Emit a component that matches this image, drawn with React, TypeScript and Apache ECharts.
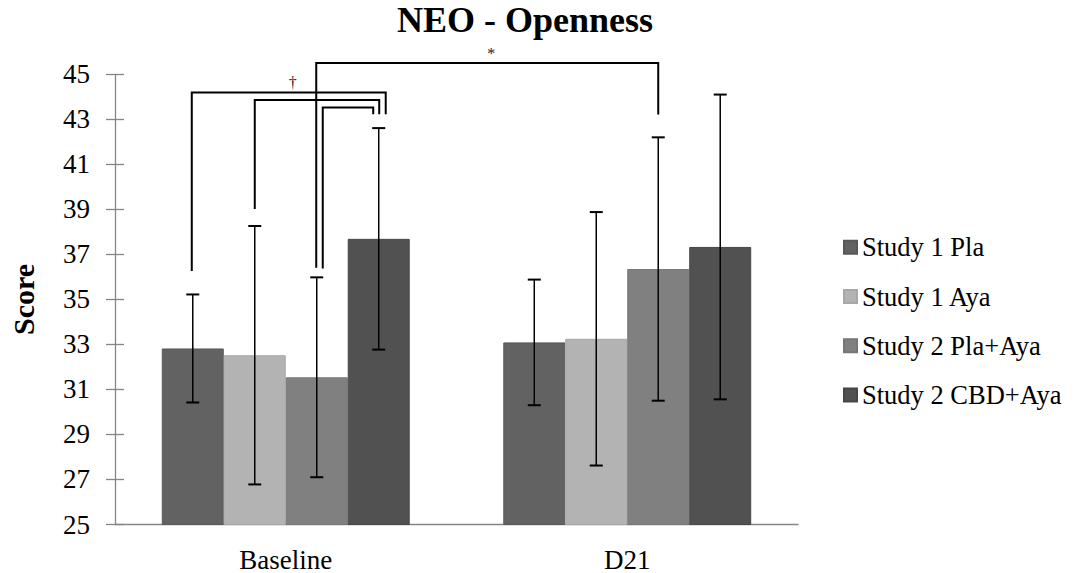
import React, { useEffect, useRef } from "react";
import * as echarts from "echarts";

const categories = ["Baseline", "D21"];
const seriesNames = ["Study 1 Pla", "Study 1 Aya", "Study 2 Pla+Aya", "Study 2 CBD+Aya"];
const studyOnePla = [32.82, 33.09];
const studyOneAya = [32.52, 33.25];
const studyTwoPlaAya = [31.54, 36.35];
const studyTwoCbdAya = [37.69, 37.33];
const sdStudyOnePla = [2.4, 2.79];
const sdStudyOneAya = [5.74, 5.63];
const sdStudyTwoPlaAya = [4.44, 5.85];
const sdStudyTwoCbdAya = [4.92, 6.77];
const yTicks = [25, 27, 29, 31, 33, 35, 37, 39, 41, 43, 45];

// significance brackets
const bracketFromCat = [0, 0, 0, 0];
const bracketFromSeries = [0, 1, 2, 2];
const bracketToCat = [0, 0, 0, 1];
const bracketToSeries = [3, 3, 3, 2];
const bracketTop = [44.19, 43.86, 43.52, 45.5];
const bracketFromFoot = [36.26, 39.02, 36.37, 36.41];
const bracketToFoot = [43.23, 43.23, 43.23, 43.21];
const bracketLabels = ["\u2020", "", "", "*"];

// layout (pixel nudges of bracket legs)
const bracketFromNudge = [-1, 0, 6, -0.5];
const bracketToNudge = [7, 0.5, -5.5, 0];

const colors = ["#626262", "#b3b3b3", "#808080", "#515151"];
const borders = ["#585858", "#a8a8a8", "#767676", "#474747"];
const CAT_GAP = 0.274;
const FONT = "'Liberation Serif', 'Times New Roman', serif";

const means = [studyOnePla, studyOneAya, studyTwoPlaAya, studyTwoCbdAya];
const sds = [sdStudyOnePla, sdStudyOneAya, sdStudyTwoPlaAya, sdStudyTwoCbdAya];

function barX(api: any, cat: number, s: number) {
  const band = api.size([1, 0])[0];
  const bw = (band * (1 - CAT_GAP)) / 4;
  const cx = api.coord([cat, 35])[0];
  return cx + (s - 1.5) * bw;
}

export default function App() {
  const ref = useRef<HTMLDivElement>(null);
  useEffect(() => {
    if (!ref.current) return;
    const chart = echarts.init(ref.current, null, { renderer: "svg" });

    const barSeries = seriesNames.map((name, s) => ({
      name,
      type: "bar",
      data: means[s],
      barGap: "0%",
      barCategoryGap: (CAT_GAP * 100).toFixed(1) + "%",
      itemStyle: { color: colors[s], borderColor: borders[s], borderWidth: 1 },
      z: 2,
    }));

    const errorSeries = seriesNames.map((name, s) => ({
      type: "custom",
      name: name + " error",
      z: 4,
      data: categories.map((_, c) => [c, means[s][c], sds[s][c]]),
      encode: { x: 0, y: 1 },
      renderItem: (params: any, api: any) => {
        const c = api.value(0);
        const m = api.value(1);
        const sd = api.value(2);
        const x = barX(api, c, s);
        const yt = api.coord([c, m + sd])[1];
        const yb = api.coord([c, m - sd])[1];
        const half = 6.5;
        return {
          type: "group",
          children: [
            { type: "line", shape: { x1: x, y1: yt, x2: x, y2: yb }, style: { stroke: "#000", lineWidth: 1.5 } },
            { type: "line", shape: { x1: x - half, y1: yt, x2: x + half, y2: yt }, style: { stroke: "#000", lineWidth: 2 } },
            { type: "line", shape: { x1: x - half, y1: yb, x2: x + half, y2: yb }, style: { stroke: "#000", lineWidth: 2 } },
          ],
        };
      },
    }));

    const bracketSeries = {
      type: "custom",
      name: "brackets",
      z: 5,
      clip: false,
      data: bracketTop.map((t, i) => [bracketFromCat[i], t]),
      encode: { x: 0, y: 1 },
      renderItem: (params: any, api: any) => {
        const i = params.dataIndex;
        const x1 = barX(api, bracketFromCat[i], bracketFromSeries[i]) + bracketFromNudge[i];
        const x2 = barX(api, bracketToCat[i], bracketToSeries[i]) + bracketToNudge[i];
        const yt = api.coord([0, bracketTop[i]])[1];
        const y1 = api.coord([0, bracketFromFoot[i]])[1];
        const y2 = api.coord([0, bracketToFoot[i]])[1];
        const children: any[] = [
          {
            type: "polyline",
            shape: { points: [[x1, y1], [x1, yt], [x2, yt], [x2, y2]] },
            style: { stroke: "#000", lineWidth: 2, fill: null },
          },
        ];
        if (bracketLabels[i]) {
          children.push({
            type: "text",
            style: {
              text: bracketLabels[i],
              x: (x1 + x2) / 2 + 4,
              y: yt - 2,
              align: "center",
              verticalAlign: "bottom",
              textAlign: "center",
              textVerticalAlign: "bottom",
              fontSize: 16,
              fontFamily: FONT,
              fill: "#2b2219",
            },
          });
        }
        return { type: "group", children };
      },
    };

    const option: any = {
      animation: false,
      backgroundColor: "#ffffff",
      title: {
        text: "NEO - Openness",
        left: 397,
        top: 0,
        padding: 0,
        textStyle: { fontFamily: FONT, fontSize: 36, fontWeight: "bold", color: "#000", lineHeight: 40 },
      },
      legend: {
        data: seriesNames,
        orient: "vertical",
        left: 843,
        top: 233.7,
        padding: 0,
        icon: "rect",
        itemWidth: 13,
        itemHeight: 13,
        itemGap: 22.3,
        textStyle: { fontFamily: FONT, fontSize: 26.5, color: "#000", lineHeight: 26 },
      },
      grid: { left: 90.7, right: 286, top: 74.3, bottom: 47, containLabel: false },
      xAxis: {
        type: "category",
        data: categories,
        axisLine: { lineStyle: { color: "#868686", width: 1.3 } },
        axisTick: { show: false },
        axisLabel: { fontFamily: FONT, fontSize: 27, color: "#000", margin: 21.5 },
      },
      yAxis: [
        {
          type: "value",
          min: yTicks[0],
          max: yTicks[yTicks.length - 1],
          interval: 2,
          name: "Score",
          nameLocation: "middle",
          nameRotate: 90,
          nameGap: 77,
          nameTextStyle: { fontFamily: FONT, fontSize: 30, fontWeight: "bold", color: "#000" },
          axisLine: { show: true, lineStyle: { color: "#868686", width: 1.3 } },
          axisTick: { show: true, length: 9, lineStyle: { color: "#868686", width: 1.3 } },
          axisLabel: { fontFamily: FONT, fontSize: 27, color: "#000", margin: 25 },
          splitLine: { show: false },
        },
        {
          type: "value",
          min: yTicks[0],
          max: yTicks[yTicks.length - 1],
          interval: 2,
          position: "left",
          axisLine: { show: false },
          axisTick: { show: true, inside: true, length: 9, lineStyle: { color: "#868686", width: 1.3 } },
          axisLabel: { show: false },
          splitLine: { show: false },
        },
      ],
      series: [...barSeries, ...errorSeries, bracketSeries],
    };
    chart.setOption(option);
    return () => chart.dispose();
  }, []);
  return (
    <div
      ref={ref}
      style={{ position: "fixed", left: 0, top: 0, width: "1084px", height: "573px", background: "#fff" }}
    />
  );
}
